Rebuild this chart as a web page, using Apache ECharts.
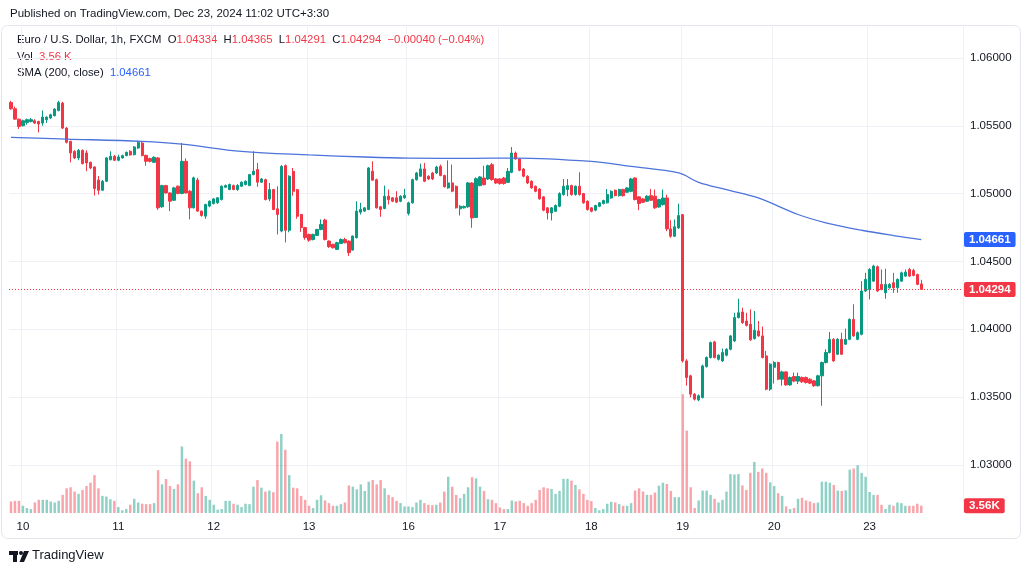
<!DOCTYPE html>
<html><head><meta charset="utf-8">
<script src="https://cdn.jsdelivr.net/npm/echarts@6/dist/echarts.min.js"></script>
<style>html,body{margin:0;padding:0;background:#fff}#c{width:1030px;height:574px}</style>
</head><body><div id="c"></div>
<script>
// ---- data (EUR/USD 1h, FXCM) ----
const days = ['9','10','11','12','13','16','17','18','19','20','23'];
const barsPerDay = [3,24,24,24,25,23,23,23,23,24,14];

const O = [
1.05672,1.05625,1.05549,1.05500,1.05525,1.05532,1.05537,1.05532,1.05520,1.05545,
1.05557,1.05574,1.05613,1.05667,1.05483,1.05385,1.05312,1.05263,1.05319,1.05300,
1.05231,1.05197,1.05100,1.05025,1.05091,1.05250,1.05275,1.05246,1.05263,1.05280,
1.05312,1.05287,1.05336,1.05373,1.05282,1.05258,1.05231,1.05263,1.04903,1.05059,
1.05005,1.04951,1.05055,1.05001,1.05238,1.05018,1.04895,1.05100,1.04871,1.04834,
1.04908,1.04927,1.04932,1.04956,1.05047,1.05030,1.05059,1.05030,1.05054,1.05067,
1.05059,1.05140,1.05177,1.05084,1.05103,1.04960,1.05030,1.04888,1.04724,1.05206,
1.04730,1.05164,1.05029,1.04846,1.04750,1.04699,1.04662,1.04692,1.04736,1.04805,
1.04650,1.04626,1.04589,1.04633,1.04662,1.04650,1.04584,1.04675,1.04863,1.04871,
1.04883,1.05165,1.05103,1.04903,1.04890,1.04981,1.04969,1.04969,1.04944,1.04969,
1.04854,1.04932,1.05103,1.05128,1.05182,1.05128,1.05152,1.05152,1.05201,1.05133,
1.05042,1.05079,1.05054,1.04888,1.04895,1.04903,1.05078,1.04824,1.05059,1.05115,
1.05108,1.05213,1.05108,1.05108,1.05115,1.05083,1.05157,1.05299,1.05255,1.05181,
1.05128,1.05091,1.05054,1.05034,1.04976,1.04895,1.04858,1.04870,1.04907,1.04993,
1.05030,1.05059,1.04993,1.05054,1.05000,1.04944,1.04895,1.04878,1.04907,1.04927,
1.04932,1.04968,1.05025,1.04985,1.05030,1.05010,1.05017,1.05115,1.04976,1.04961,
1.04944,1.04985,1.04981,1.04902,1.04919,1.04968,1.04740,1.04686,1.04747,1.04845,
1.03767,1.03657,1.03522,1.03480,1.03498,1.03725,1.03792,1.03907,1.03779,1.03767,
1.03809,1.03853,1.03914,1.04086,1.04127,1.04061,1.04037,1.03931,1.03988,1.03951,
1.03804,1.03559,1.03720,1.03755,1.03632,1.03686,1.03590,1.03652,1.03618,1.03645,
1.03645,1.03632,1.03620,1.03584,1.03657,1.03755,1.03829,1.03926,1.03816,1.03926,
1.03890,1.03926,1.04073,1.03926,1.03963,1.04282,1.04294,1.04355,1.04461,1.04331,
1.04269,1.04306,1.04343,1.04306,1.04355,1.04392,1.04441,1.04434,1.04404,1.04334];

const H = [
1.05684,1.05642,1.05552,1.05545,1.05552,1.05557,1.05549,1.05537,1.05613,1.05569,
1.05589,1.05630,1.05684,1.05677,1.05490,1.05390,1.05320,1.05329,1.05325,1.05319,
1.05235,1.05200,1.05130,1.05100,1.05270,1.05312,1.05285,1.05287,1.05287,1.05310,
1.05320,1.05350,1.05390,1.05385,1.05287,1.05265,1.05275,1.05270,1.05065,1.05065,
1.05010,1.05050,1.05060,1.05373,1.05260,1.05025,1.05125,1.05116,1.04875,1.04925,
1.04950,1.04968,1.04975,1.05060,1.05067,1.05074,1.05067,1.05070,1.05090,1.05097,
1.05145,1.05312,1.05226,1.05115,1.05110,1.05079,1.05035,1.05054,1.05210,1.05215,
1.05135,1.05189,1.05035,1.04850,1.04755,1.04705,1.04705,1.04740,1.04810,1.04815,
1.04655,1.04630,1.04645,1.04670,1.04675,1.04655,1.04692,1.04944,1.04932,1.04900,
1.05195,1.05238,1.05110,1.04908,1.05059,1.05030,1.04975,1.05018,1.04988,1.05035,
1.04940,1.05110,1.05160,1.05221,1.05226,1.05135,1.05160,1.05205,1.05214,1.05140,
1.05245,1.05214,1.05060,1.04915,1.04912,1.05085,1.05085,1.05120,1.05130,1.05206,
1.05213,1.05226,1.05115,1.05115,1.05123,1.05189,1.05343,1.05310,1.05260,1.05189,
1.05135,1.05098,1.05060,1.05040,1.04981,1.04900,1.04900,1.04920,1.05010,1.05108,
1.05108,1.05066,1.05060,1.05157,1.05005,1.04950,1.04900,1.04918,1.04938,1.04955,
1.05034,1.05025,1.05030,1.05036,1.05036,1.05048,1.05115,1.05120,1.04981,1.04968,
1.04988,1.05034,1.05030,1.04962,1.05030,1.04992,1.04804,1.04809,1.04926,1.04850,
1.03780,1.03665,1.03530,1.03520,1.03740,1.03800,1.03910,1.03915,1.03816,1.03858,
1.03860,1.03958,1.04122,1.04225,1.04159,1.04122,1.04147,1.04135,1.04061,1.04020,
1.03841,1.03750,1.03765,1.03762,1.03695,1.03692,1.03652,1.03681,1.03681,1.03652,
1.03652,1.03640,1.03627,1.03665,1.03762,1.03853,1.03980,1.03935,1.03935,1.03975,
1.04005,1.04080,1.04184,1.03985,1.04355,1.04416,1.04450,1.04475,1.04470,1.04441,
1.04446,1.04340,1.04416,1.04375,1.04425,1.04441,1.04453,1.04446,1.04410,1.04365];

const L = [
1.05618,1.05545,1.05476,1.05495,1.05508,1.05525,1.05513,1.05451,1.05500,1.05520,
1.05549,1.05569,1.05606,1.05476,1.05370,1.05231,1.05255,1.05246,1.05215,1.05165,
1.05180,1.04986,1.04993,1.05020,1.05085,1.05245,1.05240,1.05238,1.05258,1.05275,
1.05280,1.05282,1.05330,1.05275,1.05206,1.05230,1.05225,1.04880,1.04895,1.05000,
1.04871,1.04945,1.04995,1.04995,1.05000,1.04810,1.04890,1.04865,1.04830,1.04814,
1.04900,1.04920,1.04925,1.04950,1.05042,1.05025,1.05025,1.05020,1.05050,1.05060,
1.05055,1.05135,1.05050,1.05080,1.04950,1.04944,1.04878,1.04699,1.04715,1.04640,
1.04715,1.04985,1.04815,1.04718,1.04660,1.04645,1.04655,1.04687,1.04730,1.04655,
1.04600,1.04595,1.04584,1.04628,1.04633,1.04540,1.04580,1.04670,1.04846,1.04865,
1.04878,1.05095,1.04890,1.04829,1.04885,1.04920,1.04937,1.04930,1.04937,1.04962,
1.04839,1.04925,1.05095,1.05125,1.05085,1.05100,1.05100,1.05145,1.05128,1.05045,
1.05035,1.05010,1.04890,1.04839,1.04890,1.04895,1.04748,1.04820,1.05054,1.05060,
1.05100,1.05095,1.05070,1.05066,1.05066,1.05078,1.05150,1.05250,1.05165,1.05120,
1.05070,1.05035,1.05010,1.04955,1.04870,1.04809,1.04802,1.04865,1.04900,1.04985,
1.04981,1.04985,1.04985,1.04985,1.04925,1.04875,1.04862,1.04870,1.04900,1.04920,
1.04927,1.04962,1.04980,1.04978,1.04978,1.05005,1.05010,1.04950,1.04878,1.04930,
1.04938,1.04945,1.04888,1.04895,1.04912,1.04723,1.04674,1.04680,1.04740,1.03755,
1.03584,1.03498,1.03475,1.03470,1.03490,1.03718,1.03785,1.03785,1.03770,1.03760,
1.03800,1.03845,1.03907,1.04080,1.04040,1.04020,1.03915,1.03925,1.03945,1.03785,
1.03550,1.03546,1.03600,1.03625,1.03584,1.03584,1.03584,1.03610,1.03596,1.03605,
1.03600,1.03596,1.03575,1.03578,1.03436,1.03748,1.03822,1.03760,1.03810,1.03810,
1.03885,1.03920,1.03945,1.03920,1.03955,1.04275,1.04220,1.04350,1.04275,1.04288,
1.04225,1.04300,1.04269,1.04269,1.04350,1.04385,1.04385,1.04390,1.04325,1.04291];

const C = [
1.05625,1.05549,1.05495,1.05537,1.05545,1.05545,1.05520,1.05513,1.05564,1.05564,
1.05581,1.05623,1.05672,1.05483,1.05378,1.05300,1.05263,1.05319,1.05221,1.05226,
1.05189,1.05037,1.05025,1.05091,1.05263,1.05275,1.05246,1.05270,1.05280,1.05304,
1.05285,1.05344,1.05378,1.05280,1.05238,1.05238,1.05268,1.04895,1.05059,1.05005,
1.04944,1.05042,1.05001,1.05238,1.05005,1.04895,1.05116,1.04871,1.04839,1.04920,
1.04944,1.04961,1.04969,1.05055,1.05059,1.05067,1.05030,1.05060,1.05084,1.05091,
1.05140,1.05165,1.05084,1.05108,1.04956,1.05030,1.04883,1.04846,1.05201,1.04730,
1.05128,1.05017,1.04833,1.04750,1.04676,1.04657,1.04699,1.04736,1.04773,1.04662,
1.04609,1.04601,1.04638,1.04662,1.04638,1.04565,1.04687,1.04871,1.04883,1.04895,
1.05189,1.05099,1.04895,1.04883,1.04981,1.04956,1.04944,1.04937,1.04981,1.04986,
1.04932,1.05103,1.05152,1.05182,1.05091,1.05108,1.05108,1.05196,1.05133,1.05050,
1.05079,1.05018,1.04895,1.04907,1.04905,1.05079,1.04821,1.05110,1.05123,1.05066,
1.05206,1.05103,1.05078,1.05074,1.05074,1.05164,1.05299,1.05255,1.05172,1.05128,
1.05078,1.05042,1.05017,1.04961,1.04878,1.04858,1.04895,1.04912,1.05000,1.05054,
1.05059,1.04993,1.05054,1.04993,1.04932,1.04882,1.04870,1.04912,1.04932,1.04949,
1.04993,1.05017,1.04985,1.05030,1.04985,1.05042,1.05108,1.04956,1.04927,1.04936,
1.04981,1.04951,1.04895,1.04956,1.04968,1.04740,1.04686,1.04755,1.04838,1.03767,
1.03645,1.03522,1.03485,1.03510,1.03730,1.03792,1.03902,1.03792,1.03809,1.03829,
1.03853,1.03951,1.04086,1.04122,1.04049,1.04029,1.03922,1.03993,1.03951,1.03792,
1.03559,1.03743,1.03755,1.03632,1.03686,1.03590,1.03645,1.03618,1.03652,1.03613,
1.03608,1.03603,1.03584,1.03657,1.03755,1.03829,1.03926,1.03767,1.03926,1.03816,
1.03926,1.04073,1.03951,1.03975,1.04282,1.04368,1.04441,1.04466,1.04282,1.04294,
1.04331,1.04331,1.04306,1.04368,1.04416,1.04421,1.04392,1.04397,1.04331,1.04294];

// volume in thousands
const volK = [
5.6,5.9,5.9,3.5,2.4,1.9,5.1,6.4,6.4,6.4,
5.6,5.1,5.9,8.8,12.0,12.5,10.4,9.3,11.2,13.1,
14.7,18.4,12.0,8.3,8.0,6.7,5.9,2.9,1.3,1.9,
4.0,6.9,5.1,4.5,4.3,4.3,4.8,20.8,13.9,16.5,
13.1,11.7,13.9,32.3,26.4,25.1,15.7,9.6,12.5,8.3,
6.4,4.0,1.6,1.9,5.9,5.9,4.5,4.0,2.9,4.5,
4.3,12.8,16.0,12.3,10.4,10.9,10.1,34.7,38.4,30.7,
18.4,12.3,12.0,8.3,6.4,3.5,2.4,6.4,8.6,6.1,
4.8,3.5,3.5,4.3,5.1,13.4,12.8,11.5,13.9,10.7,
15.2,16.0,13.9,16.0,12.0,8.8,7.7,5.9,4.8,3.2,
3.2,2.9,5.1,6.4,4.8,4.0,3.8,4.0,5.1,10.4,
17.6,12.8,8.8,7.2,9.3,12.5,17.4,16.8,12.8,10.7,
6.7,6.4,4.8,2.7,1.9,1.9,6.1,5.6,5.9,4.8,
3.5,4.8,6.4,11.2,12.5,12.0,11.7,9.3,10.7,16.6,
16.6,15.7,13.6,11.5,9.3,6.4,5.8,2.4,1.3,1.9,
4.5,5.4,5.1,4.3,3.5,3.5,4.8,10.9,12.0,10.4,
8.8,8.8,9.9,13.3,14.7,14.1,10.7,7.7,7.7,57.7,
40.0,12.5,2.4,6.1,10.9,10.9,8.8,6.9,5.1,6.4,
10.4,18.9,18.7,18.9,13.4,11.2,19.5,24.8,20.0,21.6,
19.5,14.9,13.1,9.6,8.3,3.2,1.9,2.4,6.9,7.4,
6.1,5.6,4.8,5.1,15.2,15.2,14.7,13.6,10.9,10.7,
11.0,21.1,21.6,23.2,19.5,17.6,10.2,8.8,8.8,4.0,
1.9,4.0,3.5,5.1,4.8,3.5,3.5,3.5,4.5,3.56];

// SMA(200, close) read at selected bars
const smaIdx = [0,14,33,43,58,75,89,100,116,127,146,156,168,173,180,188,198,205,214,222,229];
const smaVal = [1.05414,1.05402,1.05385,1.05365,1.05311,1.05285,1.05270,1.05262,1.05260,1.05262,
                1.05237,1.05201,1.05152,1.05083,1.05029,1.04968,1.04846,1.04785,1.04730,1.04691,1.04661];

const lastPrice = 1.04294, lastSma = 1.04661, lastVolK = 3.56;

// ---- build categories ----
const cats = [];
const dayStart = new Set();
days.forEach((d, i) => {
  for (let k = 0; k < barsPerDay[i]; k++) {
    if (k === 0) dayStart.add(cats.length);
    cats.push(d + '#' + k);
  }
});
for (let i = 0; i < 10; i++) cats.push('pad#' + i);
const showDay = (i) => dayStart.has(i) && i > 0;

const UP = '#089981', DOWN = '#F23645';
const candleData = O.map((o, i) => [o, C[i], L[i], H[i]]);
const volData = volK.map((v, i) => ({
  value: v,
  itemStyle: { color: C[i] >= O[i] ? 'rgba(8,153,129,0.45)' : 'rgba(242,54,69,0.45)' }
}));
const smaData = smaIdx.map((ix, k) => [ix, smaVal[k]]);

const FONT = '"Liberation Sans", Arial, sans-serif';
const boxLabel = (text, bg) => ({
  show: true, position: 'end', formatter: text,
  color: '#fff', backgroundColor: bg, padding: [2, 5, 1, 5], borderRadius: 2,
  fontSize: 11.5, fontWeight: 'bold', distance: 1, fontFamily: FONT
});
const chart = echarts.init(document.getElementById('c'), null, { renderer: 'canvas' });

chart.setOption({
  animation: false,
  backgroundColor: '#ffffff',
  textStyle: { fontFamily: FONT },
  grid: { left: 9, right: 67, top: 27, bottom: 61 },
  xAxis: {
    type: 'category',
    data: cats,
    boundaryGap: true,
    axisLine: { show: false },
    axisTick: { show: false },
    axisLabel: {
      interval: (i) => showDay(i),
      formatter: (v) => v.split('#')[0],
      color: '#131722', fontSize: 11.5, margin: 8, fontFamily: FONT
    },
    splitLine: { show: true, interval: (i) => showDay(i), lineStyle: { color: '#eef0f5', width: 1 } }
  },
  yAxis: [{
    type: 'value',
    position: 'right',
    min: 1.02646, max: 1.06228,
    minInterval: 0.005, maxInterval: 0.005, splitNumber: 7,
    axisLine: { show: false },
    axisTick: { show: false },
    axisLabel: {
      formatter: (v) => v.toFixed(5), showMinLabel: false, showMaxLabel: false,
      color: '#131722', fontSize: 11.5, margin: 7, fontFamily: FONT
    },
    splitLine: { show: true, showMinLine: false, showMaxLine: false, lineStyle: { color: '#eef0f5', width: 1 } }
  }, {
    type: 'value', min: 0, max: 236, show: false, splitLine: { show: false }
  }],
  series: [{
    type: 'bar',
    name: 'Vol',
    yAxisIndex: 1,
    data: volData,
    barWidth: '62%',
    z: 1,
    markLine: {
      silent: true, symbol: ['none', 'none'], precision: 5,
      lineStyle: { color: 'rgba(0,0,0,0)', width: 0.01 },
      label: boxLabel(lastVolK.toFixed(2) + 'K', '#F23645'),
      data: [{ yAxis: lastVolK }]
    }
  }, {
    type: 'candlestick',
    name: 'EURUSD',
    data: candleData,
    barWidth: '70%',
    z: 3,
    itemStyle: { color: UP, color0: DOWN, borderColor: UP, borderColor0: DOWN, borderWidth: 1 }
  }, {
    type: 'line',
    name: 'SMA',
    data: smaData,
    smooth: 0.35,
    showSymbol: false,
    z: 4,
    lineStyle: { color: '#4d74db', width: 1.3 },
    markLine: {
      silent: true, symbol: ['none', 'none'], precision: 5,
      data: [
        { yAxis: lastPrice, lineStyle: { color: DOWN, type: [1, 2], width: 1 }, label: boxLabel(lastPrice.toFixed(5), DOWN) },
        { yAxis: lastSma, lineStyle: { color: 'rgba(0,0,0,0)', width: 0.01 }, label: boxLabel(lastSma.toFixed(5), '#2962FF') }
      ]
    }
  }],
  graphic: [
    { type: 'rect', silent: true, z: -10, shape: { x: 1.5, y: 25.5, width: 1019, height: 513, r: 6 },
      style: { fill: 'none', stroke: '#e3e6ec', lineWidth: 1 } },
    { type: 'text', left: 10, top: 8, silent: true,
      style: { text: 'Published on TradingView.com, Dec 23, 2024 11:02 UTC+3:30', font: '11.5px ' + FONT, fill: '#131722' } },
    { type: 'text', left: 17, top: 34, silent: true,
      style: {
        text: '{k|Euro / U.S. Dollar, 1h, FXCM  O}{v|1.04334}{k|  H}{v|1.04365}{k|  L}{v|1.04291}{k|  C}{v|1.04294}{v|  −0.00040 (−0.04%)}',
        rich: {
          k: { fill: '#131722', fontSize: 11.3, fontFamily: FONT },
          v: { fill: '#F23645', fontSize: 11.3, fontFamily: FONT }
        }
      } },
    { type: 'text', left: 17, top: 51, silent: true,
      style: {
        text: '{k|Vol  }{v|3.56 K}',
        rich: {
          k: { fill: '#131722', fontSize: 11.3, fontFamily: FONT },
          v: { fill: '#F23645', fontSize: 11.3, fontFamily: FONT }
        }
      } },
    { type: 'text', left: 17, top: 67, silent: true,
      style: {
        text: '{k|SMA (200, close)  }{v|1.04661}',
        rich: {
          k: { fill: '#131722', fontSize: 11.3, fontFamily: FONT },
          v: { fill: '#2962FF', fontSize: 11.3, fontFamily: FONT }
        }
      } },
    // TradingView logo mark
    { type: 'rect', silent: true, shape: { x: 9, y: 551, width: 9, height: 4 }, style: { fill: '#131722' } },
    { type: 'rect', silent: true, shape: { x: 13, y: 551, width: 4, height: 11 }, style: { fill: '#131722' } },
    { type: 'circle', silent: true, shape: { cx: 21, cy: 553, r: 2 }, style: { fill: '#131722' } },
    { type: 'polygon', silent: true, shape: { points: [[24, 551], [29, 551], [24, 562], [19.5, 562]] }, style: { fill: '#131722' } },
    { type: 'text', left: 32, top: 549, silent: true,
      style: { text: 'TradingView', font: '13px ' + FONT, fill: '#131722' } }
  ]
});
</script>
</body></html>
